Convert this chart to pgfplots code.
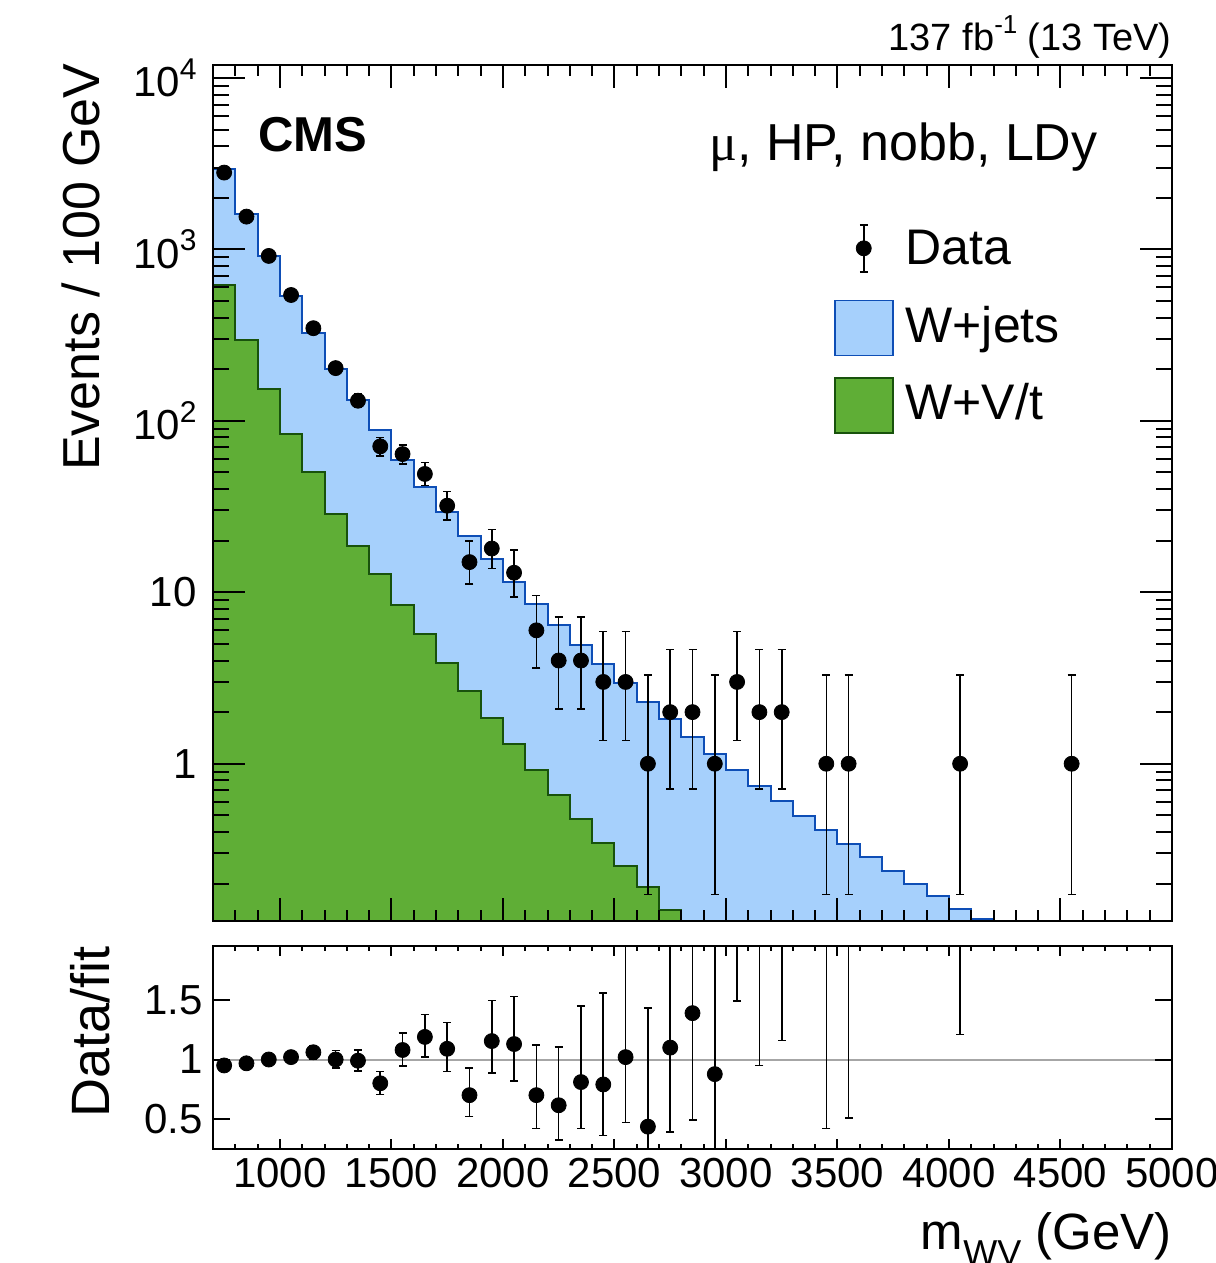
\documentclass[border=0pt]{standalone}
\usepackage{fontspec}
\setmainfont{Liberation Sans}
\newfontfamily\symfont{Liberation Serif}
\usepackage{pgfplots}
\pgfplotsset{compat=1.18}
\usetikzlibrary{calc}
\definecolor{wjfill}{RGB}{166,208,252}
\definecolor{wjline}{RGB}{14,78,182}
\definecolor{vtfill}{RGB}{95,174,54}
\definecolor{vtline}{RGB}{24,82,12}
\newcommand{\tp}[1]{10\raisebox{0.42em}{\fontsize{15}{15}\selectfont #1}}
\begin{document}
\begin{tikzpicture}[x=1pt,y=1pt]
\path[use as bounding box] (0,0) rectangle (607.5,631.5);
\begin{axis}[
  at={(106.5pt,171pt)}, anchor=south west,
  scale only axis, width=479.5pt, height=428pt,
  xmin=700, xmax=5000,
  ymode=log, ymin=0.121, ymax=11900,
  axis on top, clip mode=individual,
  axis line style={line width=1pt},
  tick style={line width=1pt, black},
  tick align=inside, xtick pos=both, ytick pos=both,
  xtick={1000,1500,...,5000},
  minor xtick={700,800,...,5000},
  xticklabels={},
  ytick={1,10,100,1000,10000},
  yticklabels={1,10,\tp{2},\tp{3},\tp{4}},
  minor ytick={0.2,0.3,0.4,0.5,0.6,0.7,0.8,0.9,2,3,4,5,6,7,8,9,20,30,40,50,60,70,80,90,200,300,400,500,600,700,800,900,2000,3000,4000,5000,6000,7000,8000,9000},
  major x tick style={/pgfplots/major tick length=11.5pt},
  minor x tick style={/pgfplots/minor tick length=5.5pt},
  major y tick style={/pgfplots/major tick length=16pt},
  minor y tick style={/pgfplots/minor tick length=8pt},
  yticklabel style={font=\fontsize{21}{21}\selectfont, inner sep=0pt},
  yticklabel shift=8pt,
  ylabel={Events / 100 GeV},
  ylabel style={at={($(rel axis cs:0,1)+(-56.5pt,1pt)$)}, rotate=0, anchor=base east, inner sep=0pt, font=\fontsize{26}{26}\selectfont},
  legend style={draw=none, fill=none, at={(rel axis cs:0.6475,0.8308)}, anchor=north west, inner sep=0pt, outer sep=0pt, row sep=0pt, column sep=6pt, font=\fontsize{25}{25}\selectfont, nodes={inner sep=0pt}},
  legend cell align=left,
]
\addlegendimage{legend image code/.code={
  \path[draw=none, fill=none] (0pt,-18.8pt) rectangle (29pt,19.7pt);
  \draw[line width=0.8pt] (14.5pt,-11.3pt) -- (14.5pt,12.2pt);
  \draw[line width=0.8pt] (12.5pt,-11.3pt) -- (16.5pt,-11.3pt);
  \draw[line width=0.8pt] (12.5pt,12.2pt) -- (16.5pt,12.2pt);
  \fill[black] (14.5pt,0.45pt) circle (3.75pt);
}}
\addlegendentry{Data}
\addplot[const plot, fill=wjfill, draw=wjline, line width=1pt,
  legend image code/.code={
  \path[draw=none, fill=none] (0pt,-18.8pt) rectangle (29pt,19.7pt);
  \draw[fill=wjfill, draw=wjline, line width=0.8pt] (0pt,-14.6pt) rectangle (29pt,12.9pt);
}] coordinates {
(700,0.01) (700,2951) (800,1604) (900,916) (1000,535) (1100,327) (1200,201)
(1300,132) (1400,88.5) (1500,59.1) (1600,41.3) (1700,29.3) (1800,21.3)
(1900,15.6) (2000,11.5) (2100,8.55) (2200,6.47) (2300,4.95) (2400,3.80)
(2500,2.94) (2600,2.30) (2700,1.82) (2800,1.44) (2900,1.14) (3000,0.919)
(3100,0.744) (3200,0.608) (3300,0.497) (3400,0.410) (3500,0.339) (3600,0.284)
(3700,0.236) (3800,0.199) (3900,0.169) (4000,0.143) (4100,0.1235) (4200,0.01)
} -- cycle;
\addlegendentry{W+jets}
\addplot[const plot, fill=vtfill, draw=vtline, line width=1pt,
  legend image code/.code={
  \path[draw=none, fill=none] (0pt,-18.8pt) rectangle (29pt,19.7pt);
  \draw[fill=vtfill, draw=vtline, line width=0.8pt] (0pt,-14.8pt) rectangle (29pt,12.7pt);
}] coordinates {
(700,0.01) (700,621) (800,297) (900,153) (1000,83.9) (1100,50.6) (1200,28.6)
(1300,18.5) (1400,12.7) (1500,8.43) (1600,5.69) (1700,3.87) (1800,2.67)
(1900,1.85) (2000,1.30) (2100,0.923) (2200,0.659) (2300,0.473) (2400,0.346)
(2500,0.254) (2600,0.190) (2700,0.140) (2800,0.01)
} -- cycle;
\addlegendentry{W+V/t}
\addplot[forget plot, only marks, mark=*, mark size=3.75pt, black,
  error bars/.cd, y dir=both, y explicit,
  error bar style={line width=0.8pt},
  error mark options={rotate=90, line width=0.8pt, mark size=2pt}]
coordinates {
(750,2805) += (0,54) -= (0,53)
(850,1553) += (0,39) -= (0,39)
(950,916) += (0,30) -= (0,30)
(1050,542) += (0,23) -= (0,23)
(1150,347) += (0,19) -= (0,19)
(1250,203) += (0,14) -= (0,14)
(1350,131) += (0,12) -= (0,11)
(1450,71) += (0,9) -= (0,8.4)
(1550,64) += (0,8.5) -= (0,8)
(1650,49) += (0,8) -= (0,7)
(1750,32) += (0,6.7) -= (0,5.6)
(1850,15) += (0,4.9) -= (0,3.8)
(1950,18) += (0,5.3) -= (0,4.2)
(2050,13) += (0,4.7) -= (0,3.6)
(2150,6) += (0,3.58) -= (0,2.38)
(2250,4) += (0,3.16) -= (0,1.91)
(2350,4) += (0,3.16) -= (0,1.91)
(2450,3) += (0,2.92) -= (0,1.63)
(2550,3) += (0,2.92) -= (0,1.63)
(2650,1) += (0,2.30) -= (0,0.827)
(2750,2) += (0,2.64) -= (0,1.29)
(2850,2) += (0,2.64) -= (0,1.29)
(2950,1) += (0,2.30) -= (0,0.827)
(3050,3) += (0,2.92) -= (0,1.63)
(3150,2) += (0,2.64) -= (0,1.29)
(3250,2) += (0,2.64) -= (0,1.29)
(3450,1) += (0,2.30) -= (0,0.827)
(3550,1) += (0,2.30) -= (0,0.827)
(4050,1) += (0,2.30) -= (0,0.827)
(4550,1) += (0,2.30) -= (0,0.827)
};
\node[anchor=base west, inner sep=0pt, font=\fontsize{24.5}{24.5}\selectfont\bfseries] at ($(rel axis cs:0,1)+(22.5pt,-43.3pt)$) {CMS};
\node[anchor=base east, inner sep=0pt, font=\fontsize{26}{26}\selectfont] at ($(rel axis cs:1,1)+(-37pt,-48pt)$) {{\symfont μ}, HP, nobb, LDy};
\node[anchor=base east, inner sep=0pt, font=\fontsize{19}{19}\selectfont] at ($(rel axis cs:1,1)+(0pt,7pt)$) {137 fb\raisebox{0.45em}{\fontsize{13}{13}\selectfont -1} (13 TeV)};
\end{axis}
\begin{axis}[
  at={(106.5pt,57pt)}, anchor=south west,
  scale only axis, width=479.5pt, height=101.5pt,
  xmin=700, xmax=5000, ymin=0.247, ymax=1.955,
  axis on top,
  axis line style={line width=1pt},
  tick style={line width=1pt, black},
  tick align=inside, xtick pos=both, ytick pos=both,
  xtick={1000,1500,...,5000},
  xticklabels={1000,1500,2000,2500,3000,3500,4000,4500,5000},
  minor xtick={700,800,...,5000},
  ytick={0.5,1,1.5},
  yticklabels={0.5,1,1.5},
  major x tick style={/pgfplots/major tick length=5pt},
  minor x tick style={/pgfplots/minor tick length=2.5pt},
  major y tick style={/pgfplots/major tick length=8.5pt},
  tick label style={font=\fontsize{21}{21}\selectfont, inner sep=0pt},
  xticklabel shift=4.5pt,
  yticklabel shift=5pt,
  ylabel={Data/fit},
  ylabel style={at={($(rel axis cs:0,1)+(-51.5pt,0pt)$)}, anchor=base east, inner sep=0pt, font=\fontsize{27}{27}\selectfont},
  xlabel={m\raisebox{-8pt}{\fontsize{18}{18}\selectfont WV} (GeV)},
  xlabel style={at={($(rel axis cs:1,0)+(0pt,-50.5pt)$)}, anchor=base east, inner sep=0pt, font=\fontsize{25.5}{25.5}\selectfont},
]
\addplot[gray!70, line width=1pt] coordinates {(700,1) (5000,1)};
\addplot[only marks, mark=*, mark size=3.75pt, black,
  error bars/.cd, y dir=both, y explicit,
  error bar style={line width=0.8pt},
  error mark options={rotate=90, line width=0.8pt, mark size=2pt}]
coordinates {
(750,0.95) += (0,0.02) -= (0,0.02)
(850,0.968) += (0,0.025) -= (0,0.025)
(950,1.0) += (0,0.035) -= (0,0.035)
(1050,1.02) += (0,0.045) -= (0,0.045)
(1150,1.061) += (0,0.058) -= (0,0.056)
(1250,1.0) += (0,0.075) -= (0,0.07)
(1350,0.99) += (0,0.09) -= (0,0.085)
(1450,0.80) += (0,0.10) -= (0,0.095)
(1550,1.08) += (0,0.145) -= (0,0.135)
(1650,1.19) += (0,0.19) -= (0,0.17)
(1750,1.09) += (0,0.22) -= (0,0.19)
(1850,0.70) += (0,0.23) -= (0,0.18)
(1950,1.155) += (0,0.34) -= (0,0.27)
(2050,1.13) += (0,0.40) -= (0,0.31)
(2150,0.70) += (0,0.42) -= (0,0.28)
(2250,0.615) += (0,0.49) -= (0,0.29)
(2350,0.81) += (0,0.64) -= (0,0.39)
(2450,0.79) += (0,0.77) -= (0,0.43)
(2550,1.02) += (0,0.99) -= (0,0.55)
(2650,0.435) += (0,1.0) -= (0,0.36)
(2750,1.10) += (0,1.45) -= (0,0.71)
(2850,1.39) += (0,1.83) -= (0,0.90)
(2950,0.877) += (0,2.0) -= (0,0.725)
(3050,3.26) += (0,3.2) -= (0,1.77)
(3150,2.69) += (0,3.5) -= (0,1.74)
(3250,3.29) += (0,4.3) -= (0,2.13)
(3450,2.44) += (0,5.6) -= (0,2.02)
(3550,2.95) += (0,6.8) -= (0,2.44)
(4050,6.99) += (0,16) -= (0,5.78)
};
\end{axis}
\end{tikzpicture}
\end{document}
